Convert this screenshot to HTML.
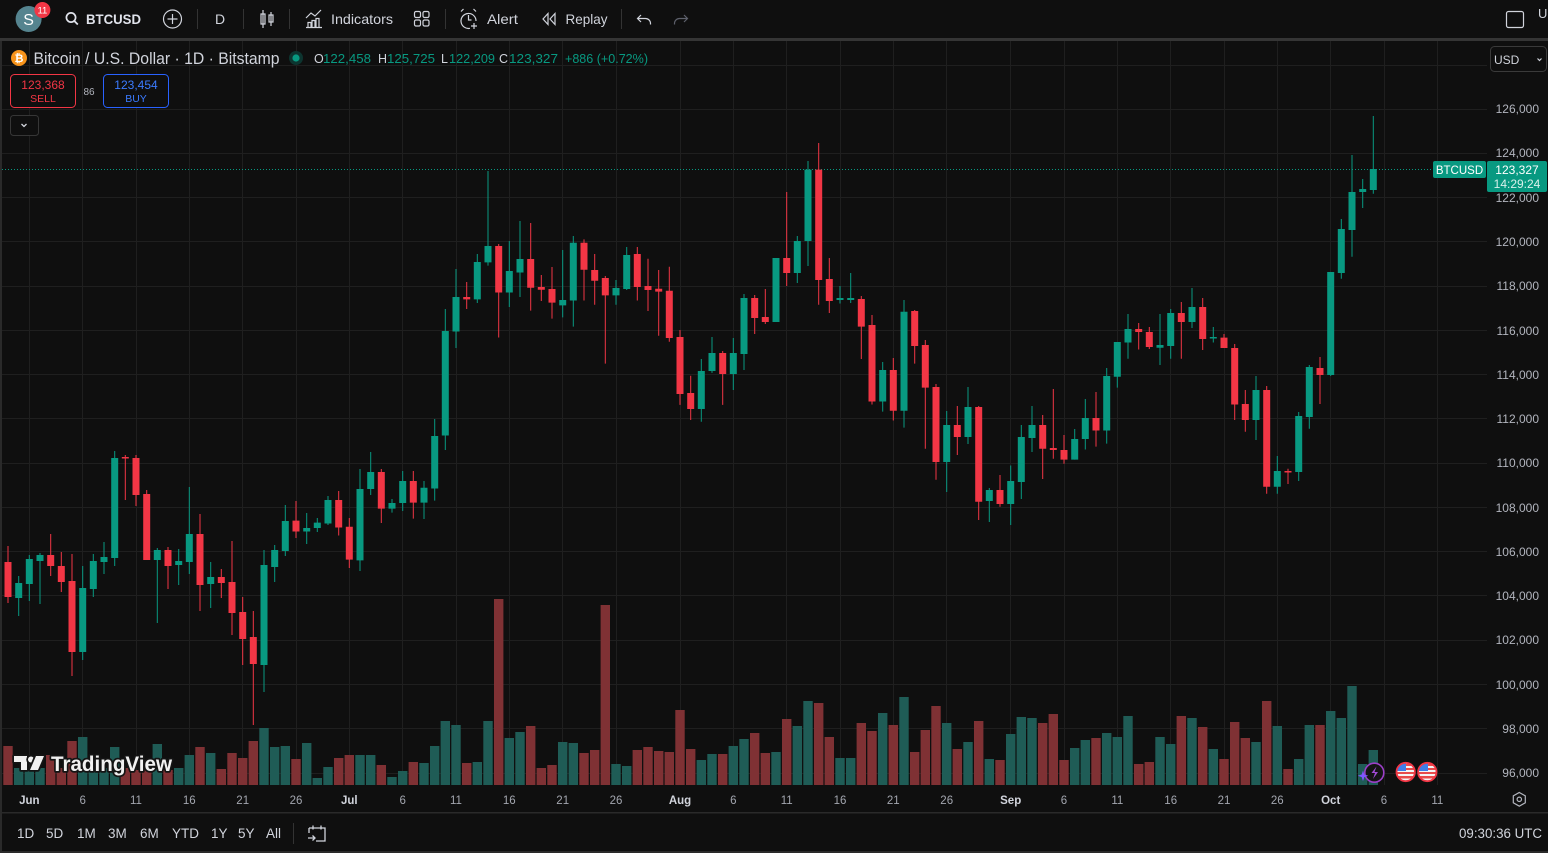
<!DOCTYPE html>
<html><head><meta charset="utf-8"><style>
html,body{margin:0;padding:0;background:#0f0f0f;}
body{width:1548px;height:853px;overflow:hidden;}
svg{display:block;font-family:"Liberation Sans",sans-serif;}
</style></head><body>
<svg width="1548" height="853" viewBox="0 0 1548 853" xmlns="http://www.w3.org/2000/svg">
<rect x="0" y="0" width="1548" height="853" fill="#0f0f0f"/>
<!-- frame bands -->
<rect x="0" y="38" width="1548" height="3" fill="#353535"/>
<rect x="0" y="41" width="2" height="812" fill="#2a2a2a"/>
<rect x="0" y="812" width="1548" height="1.5" fill="#2a2a2a"/>
<rect x="0" y="851" width="1548" height="2" fill="#2a2a2a"/>

<!-- grid -->
<g stroke="#1f1f1f" stroke-width="1">
<path d="M2 65.5H1487M2 109.5H1487M2 153.5H1487M2 197.5H1487M2 241.5H1487M2 286.5H1487M2 330.5H1487M2 374.5H1487M2 418.5H1487M2 463.5H1487M2 507.5H1487M2 551.5H1487M2 595.5H1487M2 640.5H1487M2 684.5H1487M2 728.5H1487M2 773.5H1487"/>
<path d="M29.5 41V785M82.5 41V785M136.5 41V785M189.5 41V785M242.5 41V785M296.5 41V785M349.5 41V785M402.5 41V785M456.5 41V785M509.5 41V785M562.5 41V785M616.5 41V785M680.5 41V785M733.5 41V785M786.5 41V785M840.5 41V785M893.5 41V785M946.5 41V785M1010.5 41V785M1064.5 41V785M1117.5 41V785M1170.5 41V785M1224.5 41V785M1277.5 41V785M1330.5 41V785M1384.5 41V785M1437.5 41V785"/>
</g>

<!-- volume -->
<path fill="#1f5c56" d="M14 768h9.4V785h-9.4zM24.6 770h9.4V785h-9.4zM35.3 768h9.4V785h-9.4zM78 737h9.4V785h-9.4zM88.6 770h9.4V785h-9.4zM99.3 768h9.4V785h-9.4zM110 747h9.4V785h-9.4zM152.6 744h9.4V785h-9.4zM174 768h9.4V785h-9.4zM184.6 755h9.4V785h-9.4zM206 753h9.4V785h-9.4zM259.3 728h9.4V785h-9.4zM270 747h9.4V785h-9.4zM280.6 746h9.4V785h-9.4zM302 743h9.4V785h-9.4zM312.6 778h9.4V785h-9.4zM323.3 767h9.4V785h-9.4zM355.3 755h9.4V785h-9.4zM366 755h9.4V785h-9.4zM387.3 777h9.4V785h-9.4zM398 771h9.4V785h-9.4zM419.3 763h9.4V785h-9.4zM430 746h9.4V785h-9.4zM440.6 721h9.4V785h-9.4zM451.3 725h9.4V785h-9.4zM472.6 762h9.4V785h-9.4zM483.3 721h9.4V785h-9.4zM504.6 738h9.4V785h-9.4zM515.3 732h9.4V785h-9.4zM558 742h9.4V785h-9.4zM568.6 743h9.4V785h-9.4zM611.3 764h9.4V785h-9.4zM622 766h9.4V785h-9.4zM696.6 760h9.4V785h-9.4zM707.3 754h9.4V785h-9.4zM728.6 746h9.4V785h-9.4zM739.3 739h9.4V785h-9.4zM771.3 752h9.4V785h-9.4zM792.6 726h9.4V785h-9.4zM803.3 701h9.4V785h-9.4zM835.3 758h9.4V785h-9.4zM846 758h9.4V785h-9.4zM878 713h9.4V785h-9.4zM899.3 697h9.4V785h-9.4zM942 723h9.4V785h-9.4zM963.3 742h9.4V785h-9.4zM984.6 759h9.4V785h-9.4zM1006 734h9.4V785h-9.4zM1016.6 717h9.4V785h-9.4zM1027.3 718h9.4V785h-9.4zM1070 748h9.4V785h-9.4zM1080.6 740h9.4V785h-9.4zM1102 733h9.4V785h-9.4zM1112.6 737h9.4V785h-9.4zM1123.3 716h9.4V785h-9.4zM1155.3 737h9.4V785h-9.4zM1166 744h9.4V785h-9.4zM1187.3 718h9.4V785h-9.4zM1208.6 749h9.4V785h-9.4zM1251.3 742h9.4V785h-9.4zM1272.6 726h9.4V785h-9.4zM1294 759h9.4V785h-9.4zM1304.6 725h9.4V785h-9.4zM1326 711h9.4V785h-9.4zM1336.6 718h9.4V785h-9.4zM1347.3 686h9.4V785h-9.4zM1358 764h9.4V785h-9.4zM1368.6 750h9.4V785h-9.4z"/>
<path fill="#7f3134" d="M3.3 746h9.4V785h-9.4zM46 755h9.4V785h-9.4zM56.6 768h9.4V785h-9.4zM67.3 741h9.4V785h-9.4zM120.6 768h9.4V785h-9.4zM131.3 770h9.4V785h-9.4zM142 768h9.4V785h-9.4zM163.3 770h9.4V785h-9.4zM195.3 747h9.4V785h-9.4zM216.6 769h9.4V785h-9.4zM227.3 753h9.4V785h-9.4zM238 758h9.4V785h-9.4zM248.6 741h9.4V785h-9.4zM291.3 759h9.4V785h-9.4zM334 758h9.4V785h-9.4zM344.6 755h9.4V785h-9.4zM376.6 765h9.4V785h-9.4zM408.6 762h9.4V785h-9.4zM462 763h9.4V785h-9.4zM494 599h9.4V785h-9.4zM526 726h9.4V785h-9.4zM536.6 768h9.4V785h-9.4zM547.3 765h9.4V785h-9.4zM579.3 753h9.4V785h-9.4zM590 750h9.4V785h-9.4zM600.6 605h9.4V785h-9.4zM632.6 750h9.4V785h-9.4zM643.3 747h9.4V785h-9.4zM654 751h9.4V785h-9.4zM664.6 752h9.4V785h-9.4zM675.3 710h9.4V785h-9.4zM686 749h9.4V785h-9.4zM718 754h9.4V785h-9.4zM750 733h9.4V785h-9.4zM760.6 753h9.4V785h-9.4zM782 719h9.4V785h-9.4zM814 703h9.4V785h-9.4zM824.6 737h9.4V785h-9.4zM856.6 723h9.4V785h-9.4zM867.3 731h9.4V785h-9.4zM888.6 725h9.4V785h-9.4zM910 752h9.4V785h-9.4zM920.6 730h9.4V785h-9.4zM931.3 706h9.4V785h-9.4zM952.6 749h9.4V785h-9.4zM974 721h9.4V785h-9.4zM995.3 760h9.4V785h-9.4zM1038 723h9.4V785h-9.4zM1048.6 714h9.4V785h-9.4zM1059.3 760h9.4V785h-9.4zM1091.3 738h9.4V785h-9.4zM1134 764h9.4V785h-9.4zM1144.6 762h9.4V785h-9.4zM1176.6 716h9.4V785h-9.4zM1198 727h9.4V785h-9.4zM1219.3 759h9.4V785h-9.4zM1230 722h9.4V785h-9.4zM1240.6 738h9.4V785h-9.4zM1262 701h9.4V785h-9.4zM1283.3 769h9.4V785h-9.4zM1315.3 725h9.4V785h-9.4z"/>

<!-- last price dotted line -->
<path d="M2 169.5H1433" stroke="#089981" stroke-width="1" stroke-dasharray="1 2"/>

<!-- candles green -->
<path fill="none" stroke="#089981" stroke-width="1" d="M18.7 576V616M29.3 555V601M40 553V604M82.7 566V660M93.3 554V597M104 542V574M114.7 451V566M157.3 548V623M178.7 549V585M189.3 487V574M210.7 562V608M264 550V692M274.7 545V582M285.3 505V556M306.7 513V544M317.3 518V532M328 496V525M360 469V571M370.7 452V495M392 499V512.6M402.7 471V511M424 481V519M434.7 419V500.6M445.3 309V450M456 269V348M477.3 254V303M488 171V265.6M509.3 241V307M520 221V297M562.7 250V317.4M573.3 236V326.6M616 280V304.7M626.7 247V290M701.3 359V421.7M712 337V372.9M733.3 338V390M744 294V370M776 258V322M797.3 236V283M808 161V266M840 286V303.5M850.7 273V303M882.7 362V411.6M904 300V427.6M946.7 411V492M968 387V444M989.3 488V522M1010.7 465.5V525M1021.3 425V499M1032 406V452M1074.7 429V459.6M1085.3 399V449.5M1106.7 368V443.6M1117.3 342V387.6M1128 314V358.7M1160 314V365M1170.7 309V358.7M1192 288V328M1213.3 327V342.5M1256 376V440M1277.3 456V493.8M1298.7 412V481M1309.3 365V428.7M1330.7 272V376M1341.3 219V278.7M1352 155V256.7M1362.7 179V208M1373.3 116V193.7"/>
<path fill="#089981" d="M15.2 583h7v15h-7zM25.8 559h7v25h-7zM36.5 555h7v6h-7zM79.2 588h7v64h-7zM89.8 561h7v28h-7zM100.5 557h7v5h-7zM111.2 458h7v100h-7zM153.8 550h7v10h-7zM175.2 561h7v4h-7zM185.8 534h7v28h-7zM207.2 577h7v7h-7zM260.5 565h7v100h-7zM271.2 550h7v17h-7zM281.8 521h7v30h-7zM303.2 528h7v3.5h-7zM313.8 522.6h7v5.4h-7zM324.5 500h7v23.5h-7zM356.5 489h7v71.4h-7zM367.2 472h7v17h-7zM388.5 503h7v5.6h-7zM399.2 481h7v22h-7zM420.5 487.7h7v14.9h-7zM431.2 436h7v52.5h-7zM441.8 331h7v104.5h-7zM452.5 297h7v34.5h-7zM473.8 262h7v37.4h-7zM484.5 246h7v16.4h-7zM505.8 271h7v21.5h-7zM516.5 259h7v13.5h-7zM559.2 300h7v5.4h-7zM569.8 242.8h7v57.7h-7zM612.5 288h7v7.4h-7zM623.2 255h7v34h-7zM697.8 371h7v38h-7zM708.5 353h7v18h-7zM729.8 353h7v21h-7zM740.5 298h7v56h-7zM772.5 258h7v64h-7zM793.8 241h7v32h-7zM804.5 169.6h7v71.4h-7zM836.5 298h7v2h-7zM847.2 298h7v2h-7zM879.2 370h7v31.5h-7zM900.5 311.8h7v99h-7zM943.2 425h7v37h-7zM964.5 407h7v30h-7zM985.8 490h7v11h-7zM1007.2 481h7v23h-7zM1017.8 437h7v45h-7zM1028.5 425h7v13h-7zM1071.2 439h7v20.6h-7zM1081.8 418h7v21h-7zM1103.2 376h7v54.5h-7zM1113.8 342h7v34.7h-7zM1124.5 329h7v13.5h-7zM1156.5 345h7v2.7h-7zM1167.2 313h7v33h-7zM1188.5 307h7v15h-7zM1209.8 337h7v1.5h-7zM1252.5 390h7v30h-7zM1273.8 471h7v15.8h-7zM1295.2 416h7v56h-7zM1305.8 367h7v50h-7zM1327.2 272h7v103h-7zM1337.8 229h7v44h-7zM1348.5 192h7v38h-7zM1359.2 189h7v3h-7zM1369.8 169h7v21h-7z"/>
<!-- candles red -->
<path fill="none" stroke="#f23645" stroke-width="1" d="M8 546V603M50.7 534V576M61.3 552V592M72 554V676M125.3 455V500M136 455V506M146.7 490V560M168 547V589M200 514V611M221.3 569V598M232 541V635M242.7 597V665M253.3 611V725M296 501V538M338.7 491V535.5M349.3 518V568M381.3 469V523M413.3 471V518.6M466.7 282V309M498.7 244V337.5M530.7 223V310.6M541.3 275V301M552 267V318.6M584 239.4V300.5M594.7 254V304.7M605.3 276V363.6M637.3 247V300.5M648 258.8V311M658.7 270V335.8M669.3 266.8V341.7M680 330V404.9M690.7 375.8V420M722.7 351V404.9M754.7 295V334M765.3 289V324M786.7 192V286M818.7 143V304.7M829.3 258V313M861.3 296V359M872 315V404.5M893.3 358V420.5M914.7 310V363.6M925.3 340V448.7M936 384V479.8M957.3 406V455M978.7 406V520M1000 475V506.7M1042.7 415V479M1053.3 389V458.8M1064 435V463.8M1096 392V446.6M1138.7 323V349.5M1149.3 327V349M1181.3 302V358.7M1202.7 298V350M1224 334V348M1234.7 344V420M1245.3 390V431.8M1266.7 386V493.8M1288 468.8V484M1320 357V404"/>
<path fill="#f23645" d="M4.5 562h7v35h-7zM47.2 555h7v11h-7zM57.8 566h7v16h-7zM68.5 581h7v71h-7zM121.8 457h7v1.5h-7zM132.5 458h7v37h-7zM143.2 494h7v66h-7zM164.5 550h7v16h-7zM196.5 534h7v51h-7zM217.8 577h7v6h-7zM228.5 582h7v31h-7zM239.2 612h7v27h-7zM249.8 637h7v27h-7zM292.5 520.6h7v10.9h-7zM335.2 500h7v27.5h-7zM345.8 526.7h7v32.9h-7zM377.8 472h7v36.6h-7zM409.8 481h7v21.6h-7zM463.2 297h7v2.4h-7zM495.2 246h7v46.5h-7zM527.2 259h7v28.7h-7zM537.8 287h7v2.7h-7zM548.5 289h7v13.6h-7zM580.5 242.8h7v27h-7zM591.2 270h7v10.7h-7zM601.8 278h7v17.4h-7zM633.8 254h7v33h-7zM644.5 286h7v4h-7zM655.2 288.7h7v2.9h-7zM665.8 290.8h7v47.2h-7zM676.5 337h7v57h-7zM687.2 393h7v16h-7zM719.2 353h7v21h-7zM751.2 298h7v20h-7zM761.8 317h7v5h-7zM783.2 258h7v15h-7zM815.2 169.6h7v110.4h-7zM825.8 279h7v22h-7zM857.8 299h7v27.6h-7zM868.5 325h7v76.5h-7zM889.8 370h7v40.8h-7zM911.2 311h7v35h-7zM921.8 345h7v42.6h-7zM932.5 387h7v75h-7zM953.8 425h7v12h-7zM975.2 407h7v94.7h-7zM996.5 490h7v14h-7zM1039.2 425h7v23.7h-7zM1049.8 448h7v2h-7zM1060.5 450h7v9.6h-7zM1092.5 418h7v12.5h-7zM1135.2 329h7v3h-7zM1145.8 332h7v15h-7zM1177.8 313h7v9h-7zM1199.2 307h7v32h-7zM1220.5 337.6h7v10.4h-7zM1231.2 348h7v56.5h-7zM1241.8 404h7v16h-7zM1263.2 390h7v96.8h-7zM1284.5 471h7v1.5h-7zM1316.5 368h7v7h-7z"/>

<!-- TradingView logo -->
<g stroke="#141414" stroke-width="3.5" stroke-linejoin="round" paint-order="stroke" fill="#f0f0f0">
<path d="M14 756h13v14h-6v-8h-7z"/>
<circle cx="31" cy="759.5" r="3"/>
<path d="M36 756h8l-6 14h-8z"/>
<text x="51" y="771" font-size="21" font-weight="bold" textLength="121" lengthAdjust="spacingAndGlyphs">TradingView</text>
</g>

<!-- event icons -->
<g>
<circle cx="1374.3" cy="772.7" r="9.5" fill="#141414" stroke="#9c3fc9" stroke-width="1.6"/>
<path d="M1376.5 766.5l-5 6.5h3.5l-2 6 5-7h-3.5z" fill="#a24ad6"/>
<path d="M1363 770.5l1.3 4 4 1.3-4 1.3-1.3 4-1.3-4-4-1.3 4-1.3z" fill="#7e57ff"/>
</g>
<defs><clipPath id="f1"><circle cx="1405.7" cy="772" r="8.5"/></clipPath><clipPath id="f2"><circle cx="1427.3" cy="772" r="8.5"/></clipPath></defs>
<g clip-path="url(#f1)"><rect x="1396" y="762" width="20" height="20" fill="#f4f4f4"/><rect x="1396" y="764" width="20" height="2" fill="#e84b4b"/><rect x="1396" y="768" width="20" height="2" fill="#e84b4b"/><rect x="1396" y="772" width="20" height="2" fill="#e84b4b"/><rect x="1396" y="776" width="20" height="2.5" fill="#e84b4b"/><rect x="1396" y="762" width="10" height="9" fill="#3f7ee8"/></g>
<circle cx="1405.7" cy="772" r="9.2" fill="none" stroke="#f23645" stroke-width="1.8"/>
<g clip-path="url(#f2)"><rect x="1418" y="762" width="20" height="20" fill="#f4f4f4"/><rect x="1418" y="764" width="20" height="2" fill="#e84b4b"/><rect x="1418" y="768" width="20" height="2" fill="#e84b4b"/><rect x="1418" y="772" width="20" height="2" fill="#e84b4b"/><rect x="1418" y="776" width="20" height="2.5" fill="#e84b4b"/><rect x="1418" y="762" width="10" height="9" fill="#3f7ee8"/></g>
<circle cx="1427.3" cy="772" r="9.2" fill="none" stroke="#f23645" stroke-width="1.8"/>

<!-- price axis labels -->
<g fill="#b2b5be" font-size="12" text-anchor="end">
<text x="1539" y="113">126,000</text>
<text x="1539" y="157">124,000</text>
<text x="1539" y="202">122,000</text>
<text x="1539" y="246">120,000</text>
<text x="1539" y="290">118,000</text>
<text x="1539" y="335">116,000</text>
<text x="1539" y="379">114,000</text>
<text x="1539" y="423">112,000</text>
<text x="1539" y="467">110,000</text>
<text x="1539" y="512">108,000</text>
<text x="1539" y="556">106,000</text>
<text x="1539" y="600">104,000</text>
<text x="1539" y="644">102,000</text>
<text x="1539" y="689">100,000</text>
<text x="1539" y="733">98,000</text>
<text x="1539" y="777">96,000</text>
</g>

<!-- current price tags -->
<rect x="1433" y="161" width="53" height="17" rx="2" fill="#089981"/>
<text x="1459.5" y="174" font-size="11.5" fill="#ffffff" text-anchor="middle">BTCUSD</text>
<rect x="1487" y="161" width="60" height="31" rx="2" fill="#089981"/>
<text x="1517" y="174" font-size="12" fill="#ffffff" text-anchor="middle">123,327</text>
<text x="1517" y="188" font-size="12" fill="#d8f0eb" text-anchor="middle">14:29:24</text>

<!-- USD box -->
<rect x="1490.5" y="46.5" width="56" height="25" rx="4" fill="#0f0f0f" stroke="#3a3a3a"/>
<text x="1494" y="64" font-size="12" fill="#d1d4dc">USD</text>
<path d="M1537.5 58.5l2 2 2-2" fill="none" stroke="#d1d4dc" stroke-width="1.2"/>

<!-- time axis -->
<g fill="#a3a6af" font-size="11.5" text-anchor="middle">
<text x="29.3" y="804" fill="#d1d4dc" font-weight="bold">Jun</text>
<text x="82.7" y="804">6</text>
<text x="136" y="804">11</text>
<text x="189.3" y="804">16</text>
<text x="242.7" y="804">21</text>
<text x="296" y="804">26</text>
<text x="349.3" y="804" fill="#d1d4dc" font-weight="bold">Jul</text>
<text x="402.7" y="804">6</text>
<text x="456" y="804">11</text>
<text x="509.3" y="804">16</text>
<text x="562.7" y="804">21</text>
<text x="616" y="804">26</text>
<text x="680" y="804" fill="#d1d4dc" font-weight="bold">Aug</text>
<text x="733.3" y="804">6</text>
<text x="786.7" y="804">11</text>
<text x="840" y="804">16</text>
<text x="893.3" y="804">21</text>
<text x="946.7" y="804">26</text>
<text x="1010.7" y="804" fill="#d1d4dc" font-weight="bold">Sep</text>
<text x="1064" y="804">6</text>
<text x="1117.3" y="804">11</text>
<text x="1170.7" y="804">16</text>
<text x="1224" y="804">21</text>
<text x="1277.3" y="804">26</text>
<text x="1330.7" y="804" fill="#d1d4dc" font-weight="bold">Oct</text>
<text x="1384" y="804">6</text>
<text x="1437.3" y="804">11</text>
</g>
<path d="M1519.3 792.5l6 3.4v6.9l-6 3.4-6-3.4v-6.9z" fill="none" stroke="#b2b5be" stroke-width="1.2"/>
<circle cx="1519.3" cy="799.3" r="2.2" fill="none" stroke="#b2b5be" stroke-width="1.2"/>

<!-- bottom toolbar -->
<g fill="#d1d4dc" font-size="13.5">
<text x="17" y="838">1D</text>
<text x="46" y="838">5D</text>
<text x="77" y="838">1M</text>
<text x="108" y="838">3M</text>
<text x="140" y="838">6M</text>
<text x="172" y="838">YTD</text>
<text x="211" y="838">1Y</text>
<text x="238" y="838">5Y</text>
<text x="266" y="838">All</text>
<text x="1542" y="838" text-anchor="end" textLength="83" lengthAdjust="spacingAndGlyphs">09:30:36 UTC</text>
</g>
<rect x="293" y="823" width="1" height="21" fill="#333"/>
<g fill="none" stroke="#d1d4dc" stroke-width="1.3">
<path d="M309 828h16v13h-9M309 828v5M313 825.5v4M321 825.5v4"/>
<path d="M308 838h7m-2.5-2.5l2.5 2.5-2.5 2.5"/>
</g>

<!-- top toolbar -->
<circle cx="28.6" cy="19" r="13" fill="#55848f"/>
<text x="28.6" y="25" font-size="16" fill="#ffffff" text-anchor="middle">S</text>
<circle cx="42.4" cy="10" r="8" fill="#f23645"/>
<text x="42.4" y="13.5" font-size="9.5" fill="#ffffff" text-anchor="middle">11</text>

<circle cx="71" cy="17.5" r="4.6" fill="none" stroke="#e0e3eb" stroke-width="1.7"/>
<path d="M74.3 21l3.5 3.5" stroke="#e0e3eb" stroke-width="1.8"/>
<text x="86" y="24" font-size="14" font-weight="bold" fill="#e0e3eb" textLength="55" lengthAdjust="spacingAndGlyphs">BTCUSD</text>

<g fill="none" stroke="#d1d4dc" stroke-width="1.2">
<circle cx="172.5" cy="19" r="9"/>
<path d="M172.5 14v10M167.5 19h10"/>
</g>
<g fill="#333"><rect x="197" y="9" width="1" height="20"/><rect x="243" y="9" width="1" height="20"/><rect x="289" y="9" width="1" height="20"/><rect x="445" y="9" width="1" height="20"/><rect x="621" y="9" width="1" height="20"/></g>
<text x="215" y="24" font-size="14" fill="#d1d4dc">D</text>

<g fill="none" stroke="#d1d4dc" stroke-width="1.2">
<path d="M263 10v18M261 14h4v10h-4z"/>
<path d="M271 12v14M269 15h4v7h-4z"/>
<!-- indicators icon -->
<path d="M306 27.5h16M308 27.5v-5h3v5M312 27.5v-7h3v7M316 27.5v-9h3v9M306 18l5-5 4 3 6-6"/>
<!-- grid -->
<rect x="414.5" y="11.5" width="6" height="6" rx="1.5"/><rect x="423" y="11.5" width="6" height="6" rx="1.5"/><rect x="414.5" y="20" width="6" height="6" rx="1.5"/><rect x="423" y="20" width="6" height="6" rx="1.5"/>
<!-- alert -->
<path d="M476 21a7.5 7.5 0 1 0 -6 7.3"/>
<path d="M468.5 15v5h3"/><path d="M461 11.5l2.5-2.5M476 11.5l-2.5-2.5"/>
<path d="M474 23v6M471 26h6"/>
<!-- replay -->
<path d="M548 13.5l-5 5.5 5 5.5zM555 13.5l-5 5.5 5 5.5z"/>
<!-- undo -->
<path d="M641 15l-3.5 3.5 3.5 3.5M637.5 18.5h8a5 5 0 0 1 5 5v1"/>
</g>
<path d="M684 15l3.5 3.5-3.5 3.5M687.5 18.5h-8a5 5 0 0 0-5 5v1" fill="none" stroke="#5d606b" stroke-width="1.2"/>
<g font-size="14" fill="#d1d4dc">
<text x="331" y="24" textLength="62" lengthAdjust="spacingAndGlyphs">Indicators</text>
<text x="487" y="24" textLength="31" lengthAdjust="spacingAndGlyphs">Alert</text>
<text x="565.5" y="24" textLength="42" lengthAdjust="spacingAndGlyphs">Replay</text>
</g>
<rect x="1506.5" y="11.5" width="17" height="16" rx="2" fill="none" stroke="#d1d4dc" stroke-width="1.2"/>
<text x="1538" y="18" font-size="13" fill="#d1d4dc">U</text>

<!-- legend -->
<circle cx="19" cy="58" r="8" fill="#f7931a"/>
<text x="19" y="62" font-size="11" font-weight="bold" fill="#ffffff" text-anchor="middle">₿</text>
<text x="33.5" y="64" font-size="16.5" fill="#d1d4dc" textLength="246" lengthAdjust="spacingAndGlyphs">Bitcoin / U.S. Dollar · 1D · Bitstamp</text>
<circle cx="296" cy="58" r="7" fill="#0d3530"/>
<circle cx="296" cy="58" r="3.6" fill="#089981"/>
<g font-size="12.5">
<text x="314" y="63" fill="#d1d4dc">O</text>
<text x="323" y="63" fill="#089981" textLength="48" lengthAdjust="spacingAndGlyphs">122,458</text>
<text x="378" y="63" fill="#d1d4dc">H</text>
<text x="387" y="63" fill="#089981" textLength="48" lengthAdjust="spacingAndGlyphs">125,725</text>
<text x="441" y="63" fill="#d1d4dc">L</text>
<text x="449" y="63" fill="#089981" textLength="46" lengthAdjust="spacingAndGlyphs">122,209</text>
<text x="499" y="63" fill="#d1d4dc">C</text>
<text x="509" y="63" fill="#089981" textLength="49" lengthAdjust="spacingAndGlyphs">123,327</text>
<text x="565" y="63" fill="#089981" textLength="83" lengthAdjust="spacingAndGlyphs">+886 (+0.72%)</text>
</g>

<!-- sell / buy -->
<rect x="10.5" y="74.5" width="65" height="33" rx="4" fill="#0f0f0f" stroke="#f23645"/>
<text x="43" y="89" font-size="12" fill="#f23645" text-anchor="middle">123,368</text>
<text x="43" y="102" font-size="10.5" fill="#f23645" text-anchor="middle">SELL</text>
<text x="89" y="95" font-size="10" fill="#b2b5be" text-anchor="middle">86</text>
<rect x="103.5" y="74.5" width="65" height="33" rx="4" fill="#0f0f0f" stroke="#2962ff"/>
<text x="136" y="89" font-size="12" fill="#3b7bff" text-anchor="middle">123,454</text>
<text x="136" y="102" font-size="10.5" fill="#3b7bff" text-anchor="middle">BUY</text>
<rect x="10.5" y="115.5" width="28" height="20" rx="3" fill="#0f0f0f" stroke="#363636"/>
<path d="M21.5 124l2.5 2.5 2.5-2.5" fill="none" stroke="#d1d4dc" stroke-width="1.3"/>
</svg>
</body></html>
